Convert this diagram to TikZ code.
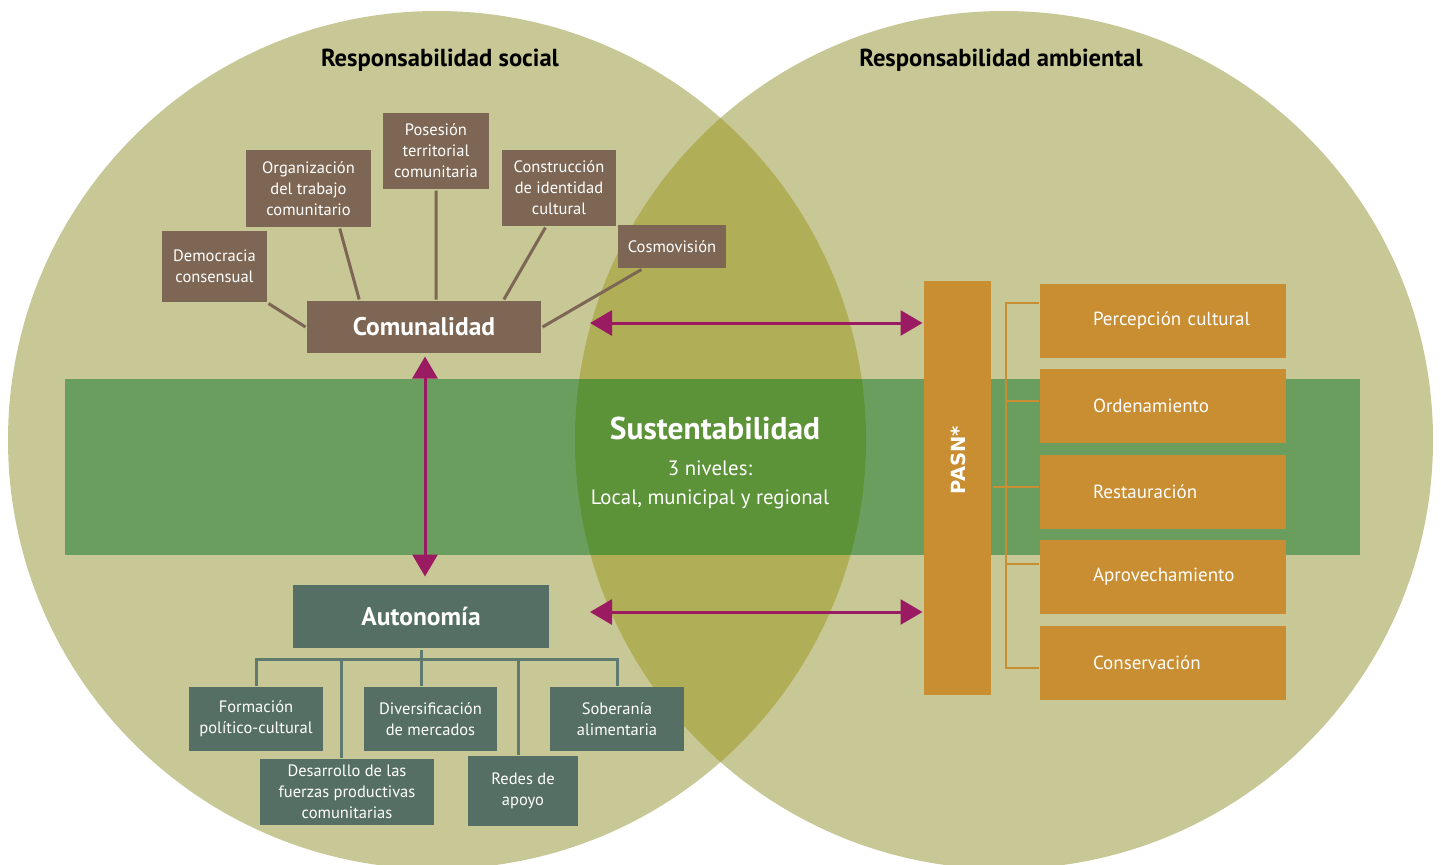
\documentclass[tikz,border=0pt]{standalone}
\usepackage{fontspec}
\setmainfont{PT Sans}
\newfontfamily\pasnfont{DejaVu Sans}
\usepackage{tikz}
\usetikzlibrary{positioning,arrows.meta,calc}
\definecolor{circlefill}{HTML}{C8C796}
\definecolor{lensfill}{HTML}{B0AF58}
\definecolor{bandfill}{HTML}{6A9E5F}
\definecolor{bandlens}{HTML}{5C9338}
\definecolor{combrown}{HTML}{7D6654}
\definecolor{autgreen}{HTML}{566F64}
\definecolor{autline}{HTML}{5F7A6F}
\definecolor{pasnorange}{HTML}{C98D32}
\definecolor{arrowred}{HTML}{9B1B63}

\begin{document}
\begin{tikzpicture}[x=1pt,y=-1pt,>={Triangle[length=22pt,width=25pt]},
                    line width=3pt]
  \tikzstyle{combox}=[fill=combrown, text=white, inner sep=0pt, align=center,
                      font=\fontsize{16.5}{21}\selectfont]
  \tikzstyle{autbox}=[combox, fill=autgreen]
  \tikzstyle{mainbox}=[inner sep=0pt, text=white, font=\bfseries\fontsize{25.5}{25.5}\selectfont]
  \tikzstyle{obox}=[fill=pasnorange, text=white, inner sep=0pt, align=left,
                    minimum width=246pt, text width=246pt, minimum height=74pt,
                    font=\fontsize{19}{19}\selectfont]
  \tikzstyle{title}=[font=\bfseries\fontsize{24.6}{24.6}\selectfont]
  \tikzstyle{link}=[draw=arrowred, <->]

  \useasboundingbox (0,0) rectangle (1441,865);

  \fill[circlefill] (437,440) circle (429);
  \fill[circlefill] (1004,440) circle (429);
  \begin{scope}
    \clip (437,440) circle (429);
    \fill[lensfill] (1004,440) circle (429);
  \end{scope}
  \fill[bandfill] (65,379) rectangle (1360,555);
  \begin{scope}
    \clip (437,440) circle (429);
    \clip (1004,440) circle (429);
    \fill[bandlens] (65,379) rectangle (1360,555);
  \end{scope}

  \node[title] (soc) at (440,60) {Responsabilidad social};
  \node[title] (amb) at (1001,60) {Responsabilidad ambiental};

  \node[combox, minimum width=105pt, minimum height=71pt] (dem) at (214.5,266.5) {Democracia\\consensual};
  \node[combox, minimum width=125pt, minimum height=77pt] (org) at (308.5,188.5) {Organización\\del trabajo\\comunitario};
  \node[combox, minimum width=106pt, minimum height=76pt] (pos) at (436,151) {Posesión\\territorial\\comunitaria};
  \node[combox, minimum width=114pt, minimum height=76pt] (con) at (559,188) {Construcción\\de identidad\\cultural};
  \node[combox, minimum width=108pt, minimum height=43pt] (cos) at (672,246.5) {Cosmovisión};
  \node[mainbox, fill=combrown, minimum width=234pt, minimum height=52pt] (com) at (424,327) {Comunalidad};

  \path[draw=combrown] (dem.south east) -- (com.west)
                       (org.308) -- (com.157)
                       (pos.south) -- (pos.south |- com.north)
                       (con.251) -- (com.19)
                       (cos.217) -- (com.east);

  \node[mainbox, fill=autgreen, minimum width=256pt, minimum height=63pt] (aut) at (421,616.5) {Autonomía};
  \node[autbox, minimum width=134pt, minimum height=64pt] (for) at (256,719) {Formación\\político-cultural};
  \node[autbox, minimum width=133pt, minimum height=64pt] (div) at (430.5,719) {Diversificación\\de mercados};
  \node[autbox, minimum width=134pt, minimum height=64pt] (sob) at (617,719) {Soberanía\\alimentaria};
  \node[autbox, minimum width=174pt, minimum height=66pt] (des) at (347,792) {Desarrollo de las\\fuerzas productivas\\comunitarias};
  \node[autbox, minimum width=110pt, minimum height=70pt] (red) at (523,791) {Redes de\\apoyo};

  \coordinate (autbar) at ($(aut.south)+(0,10)$);
  \path[draw=autline] (aut.south) -- (aut.south |- div.north)
                      (for.north) |- (autbar) -| (sob.north)
                      ([xshift=-6pt]des.north) -- ([xshift=-6pt]des.north |- autbar)
                      ([xshift=-5pt]red.north) -- ([xshift=-5pt]red.north |- autbar);

  \node[mainbox, font=\bfseries\fontsize{31.5}{31.5}\selectfont] (sus) at (715,428) {Sustentabilidad};
  \node[text=white, align=center, font=\fontsize{20.8}{29}\selectfont] (niv) at (710,485) {3 niveles:\\Local, municipal y regional};

  \node[fill=pasnorange, minimum width=67pt, minimum height=414pt, inner sep=0pt] (pasn) at (957.5,488) {};
  \node[rotate=90, text=white, font=\pasnfont\bfseries\fontsize{19.5}{19.5}\selectfont] (pasntxt) at (958,460) {PASN*};

  \node[obox] (per) at (1163,320.5) {\hspace*{53pt}Percepción cultural};
  \node[obox] (ord) at (1163,406) {\hspace*{53pt}Ordenamiento};
  \node[obox] (res) at (1163,491.5) {\hspace*{53pt}Restauración};
  \node[obox] (apr) at (1163,577) {\hspace*{53pt}Aprovechamiento};
  \node[obox] (cnv) at (1163,663) {\hspace*{53pt}Conservación};

  \coordinate (brk) at (1006,487);
  \path[draw=pasnorange, line width=2pt]
        ([yshift=17.5pt]per.west) -| (brk) |- ([yshift=-5pt]cnv.west)
        (pasn.east |- brk) -- (res.west |- brk)
        ([yshift=5pt]ord.west) -- ++(-34,0)
        ([yshift=13pt]apr.west) -- ++(-34,0);

  \coordinate (comarrow) at (590,323);
  \coordinate (autarrow) at (590,612);
  \draw[link] (comarrow) -- (comarrow -| pasn.west);
  \draw[link] (autarrow) -- (autarrow -| pasn.west);
  \draw[link] ($(com.south)+(1,2)$) -- ($(com.south |- aut.north)+(1,-7)$);

\end{tikzpicture}
\end{document}
